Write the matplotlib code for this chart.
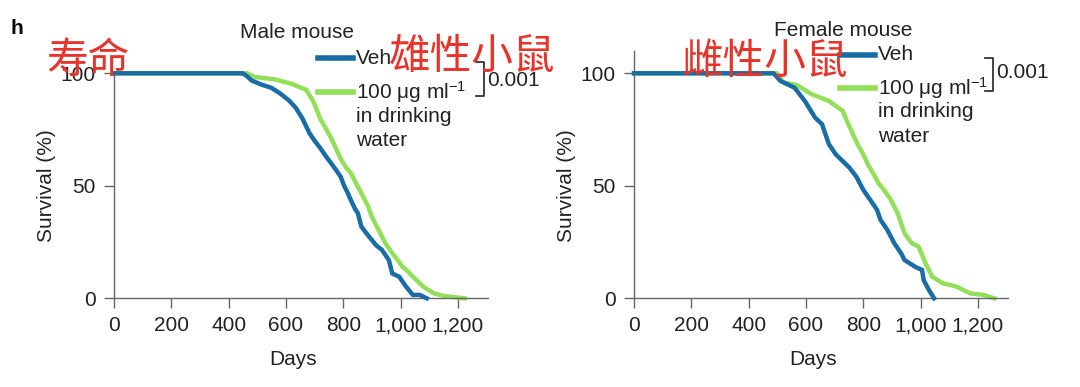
import matplotlib
matplotlib.use('Agg')
import matplotlib.pyplot as plt
from matplotlib.ticker import FuncFormatter
from matplotlib.lines import Line2D

plt.rcParams['font.family'] = ['Liberation Sans', 'Noto Sans CJK SC', 'DejaVu Sans']
plt.rcParams['mathtext.fontset'] = 'custom'
plt.rcParams['mathtext.rm'] = 'Liberation Sans'
plt.rcParams['mathtext.it'] = 'Liberation Sans:italic'
plt.rcParams['text.color'] = '#222222'
plt.rcParams['axes.labelcolor'] = '#222222'
plt.rcParams['xtick.labelcolor'] = '#222222'
plt.rcParams['ytick.labelcolor'] = '#222222'

# survival curves (days, % alive)
male_veh_days = [0, 450, 466, 480, 514, 550, 580, 610, 634, 658, 682, 700, 719, 740, 755, 775, 791,
                 803, 815, 827, 840, 851, 863, 880, 899, 915, 935, 959, 971, 995, 1019, 1043, 1067, 1091]
male_veh_surv = [100, 100, 98.5, 96.8, 95, 93.5, 91, 88, 84.7, 79.8, 73.4, 70, 66.9, 63, 60.5, 57, 54,
                 50, 47, 43.5, 40, 37.8, 31.9, 29, 26, 23.5, 21.5, 17, 11, 9.6, 5.2, 1.5, 1.5, 0]
male_trt_days = [0, 465, 490, 562, 622, 670, 694, 707, 719, 737, 755, 773, 791, 810, 827, 845, 863,
                 887, 899, 923, 947, 971, 990, 1007, 1025, 1043, 1079, 1116, 1152, 1224]
male_trt_surv = [100, 100, 98.4, 97.3, 95.2, 92.7, 87.9, 84, 79.8, 76, 71.8, 67, 62, 58, 55.6, 51, 46.7,
                 40.8, 36.4, 30.4, 24.5, 20, 17, 14, 12, 9.6, 5.2, 2.2, 1, 0]

female_veh_days = [0, 487, 511, 560, 596, 632, 656, 680, 704, 752, 776, 800, 824, 848, 860, 884,
                   908, 932, 944, 981, 1005, 1011, 1029, 1047]
female_veh_surv = [100, 100, 96.6, 93.6, 87.7, 80.3, 77.4, 68.5, 64, 58, 54, 48.2, 43.8, 39.3, 34.9, 30.4,
                   24.5, 20, 17, 14, 12.6, 8, 3.7, 0]
female_trt_days = [0, 499, 520, 568, 620, 680, 728, 746, 764, 782, 800, 818, 836, 854, 872, 896, 920,
                   944, 969, 993, 1017, 1041, 1077, 1125, 1173, 1221, 1257]
female_trt_surv = [100, 100, 96, 94.8, 90.7, 87.7, 83.3, 78, 72.9, 68, 64, 59, 55.2, 51, 48.2, 43.8, 37.8,
                   28.9, 24.5, 23, 15.6, 9.6, 6.7, 5.2, 2.2, 1.5, 0]

x_ticks = [0, 200, 400, 600, 800, 1000, 1200]
y_ticks = [0, 50, 100]

BLUE = '#1a6ca6'
GREEN = '#92e05a'
RED = '#e8332a'
GREY = '#666666'
FS = 15

W, H = 1080, 387
fig = plt.figure(figsize=(W / 100, H / 100), dpi=100)


def px(x, y):
    # pixel position -> figure fraction
    return x / W, 1 - y / H


def panel(left_px, days1, surv1, days2, surv2, ytop):
    l, b = px(left_px, 298.3)
    ax = fig.add_axes([l, b, 374 / W, 247.5 / H])
    ax.plot(days1, surv1, color=BLUE, lw=3.2, clip_on=False, zorder=3, solid_joinstyle='miter')
    ax.plot(days2, surv2, color=GREEN, lw=3.2, clip_on=False, zorder=2, solid_joinstyle='miter')
    ax.set_xlim(0, 1305)
    ax.set_ylim(0, 110)
    for s in ['top', 'right']:
        ax.spines[s].set_visible(False)
    for s in ['left', 'bottom']:
        ax.spines[s].set_color(GREY)
        ax.spines[s].set_linewidth(1.0)
    ax.spines['left'].set_bounds(0, ytop)
    ax.set_xticks(x_ticks)
    ax.set_yticks(y_ticks)
    ax.xaxis.set_major_formatter(FuncFormatter(lambda v, p: '{:,.0f}'.format(v)))
    ax.tick_params(direction='out', length=7, width=1.0, color=GREY, labelsize=FS, pad=6)
    ax.set_xlabel('Days', fontsize=FS)
    ax.xaxis.set_label_coords(0.48, -0.21)
    ax.set_ylabel('Survival (%)', fontsize=FS)
    ax.yaxis.set_label_coords(-0.155, 0.455)
    return ax


ax1 = panel(114, male_veh_days, male_veh_surv, male_trt_days, male_trt_surv, 100)
ax2 = panel(634, female_veh_days, female_veh_surv, female_trt_days, female_trt_surv, 110)

dose = '100 μg ml$^{-1}$'


def legend(title, title_x, title_y, x0, y_veh, y_trt, br_x, br_y0, br_y1, p_y):
    fig.text(*px(title_x, title_y), title, fontsize=FS, ha='center', va='center')
    fig.add_artist(Line2D([px(x0, 0)[0], px(x0 + 35, 0)[0]], [px(0, y_veh)[1]] * 2,
                          color=BLUE, lw=4))
    fig.add_artist(Line2D([px(x0, 0)[0], px(x0 + 35, 0)[0]], [px(0, y_trt)[1]] * 2,
                          color=GREEN, lw=4))
    tx = x0 + 38
    fig.text(*px(tx, y_veh), 'Veh', fontsize=FS, va='center')
    fig.text(*px(tx, y_trt), dose, fontsize=FS, va='center')
    fig.text(*px(tx, y_trt + 24), 'in drinking', fontsize=FS, va='center')
    fig.text(*px(tx, y_trt + 48), 'water', fontsize=FS, va='center')
    xs = [px(br_x, 0)[0], px(br_x + 8, 0)[0], px(br_x + 8, 0)[0], px(br_x, 0)[0]]
    ys = [px(0, br_y0)[1], px(0, br_y0)[1], px(0, br_y1)[1], px(0, br_y1)[1]]
    fig.add_artist(Line2D(xs, ys, color='#222222', lw=1.2))
    fig.text(*px(br_x + 11, p_y), '0.001', fontsize=FS, va='center')


legend('Male mouse', 297, 33, 318, 58, 92, 476, 62, 96, 80)
legend('Female mouse', 843, 30, 840, 55, 88, 985, 58, 91, 72)

fig.text(*px(10, 28), 'h', fontsize=15, fontweight='bold', va='center', color='black')

cjk = ['Noto Sans CJK SC', 'DejaVu Sans']
fig.text(*px(88, 62), '寿命', fontsize=30, color=RED, ha='center', va='center', family=cjk)
fig.text(*px(472, 57), '雄性小鼠', fontsize=30, color=RED, ha='center', va='center', family=cjk)
fig.text(*px(765, 62), '雌性小鼠', fontsize=30, color=RED, ha='center', va='center', family=cjk)

fig.savefig('out.png', dpi=100)
